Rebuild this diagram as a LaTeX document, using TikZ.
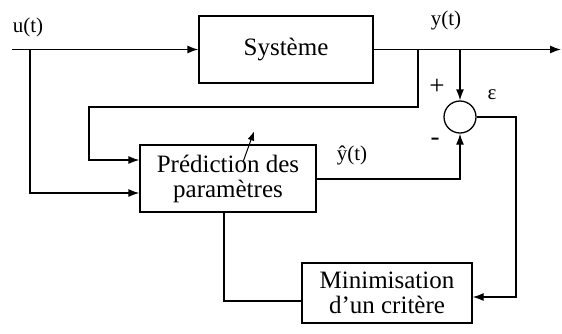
\documentclass[tikz,border=0pt]{standalone}
\usepackage{fontspec}
\setmainfont{Liberation Serif}
\usetikzlibrary{arrows.meta, positioning}

\begin{document}
\begin{tikzpicture}[x=1pt, y=-1pt, line width=1.3pt,
    >={Latex[length=11pt,width=8pt]},
    bloc/.style={draw, line width=1.3pt, align=center, font=\fontsize{25}{29}\selectfont},
    somme/.style={draw, circle, line width=1.3pt, minimum size=32pt, inner sep=0pt},
    etiq/.style={font=\fontsize{21}{25}\selectfont, inner sep=0pt}]
        \useasboundingbox (0,0) rectangle (562,333);
        % blocs
        \node[bloc, minimum width=174pt, minimum height=67pt] (sys)  at (286,49.5)  {Système};
        \node[bloc, minimum width=176pt, minimum height=67pt] (pred) at (228,178.5) {Prédiction des\\[-4pt]paramètres};
        \node[bloc, minimum width=170pt, minimum height=60pt] (crit) at (387,293)   {Minimisation\\[-4pt]d’un critère};
        \node[somme] (sum) at (460,117) {};
        % points de branchement
        \coordinate (ent) at (12,49.5);
        \coordinate (sor) at (561,49.5);
        \coordinate (bu)  at (30,49.5);
        \coordinate (by)  at (418,49.5);
        \coordinate (cy)  at (89,107);
        \coordinate (ce)  at (516,117);
        % liaisons
        \draw[->] (ent) -- (sys.west);
        \draw[->] (sys.east) -- (sor);
        \draw[->] (bu) |- ([yshift=-14.5pt]pred.west);
        \draw[->] (by) |- (cy) |- ([yshift=18.5pt]pred.west);
        \draw[->] (sum.north |- sys.east) -- (sum.north);
        \draw[->] ([yshift=-0.5pt]pred.east) -| (sum.south);
        \draw[->] (sum.east) -- (ce) |- ([yshift=-4pt]crit.east);
        \draw ([yshift=-8pt]crit.west) -| ([xshift=-4pt]pred.south);
        \draw[->, line width=1pt, >={Latex[length=9pt,width=7pt]}]
            ([shift={(15pt,16.5pt)}]pred.center) -- ([shift={(26pt,47pt)}]pred.center);
        % textes
        \node[etiq] (lu)  at (28,27)   {u(t)};
        \node[etiq] (ly)  at (446,20)  {y(t)};
        \node[etiq, font=\fontsize{27}{30}\selectfont] (lp)  at (437,87)  {+};
        \node[etiq, font=\fontsize{27}{30}\selectfont] (lm)  at (435,142) {-};
        \node[etiq] (le)  at (492,95)  {ε};
        \node[etiq] (lyh) at (352,155) {ŷ(t)};
      \end{tikzpicture}
\end{document}
